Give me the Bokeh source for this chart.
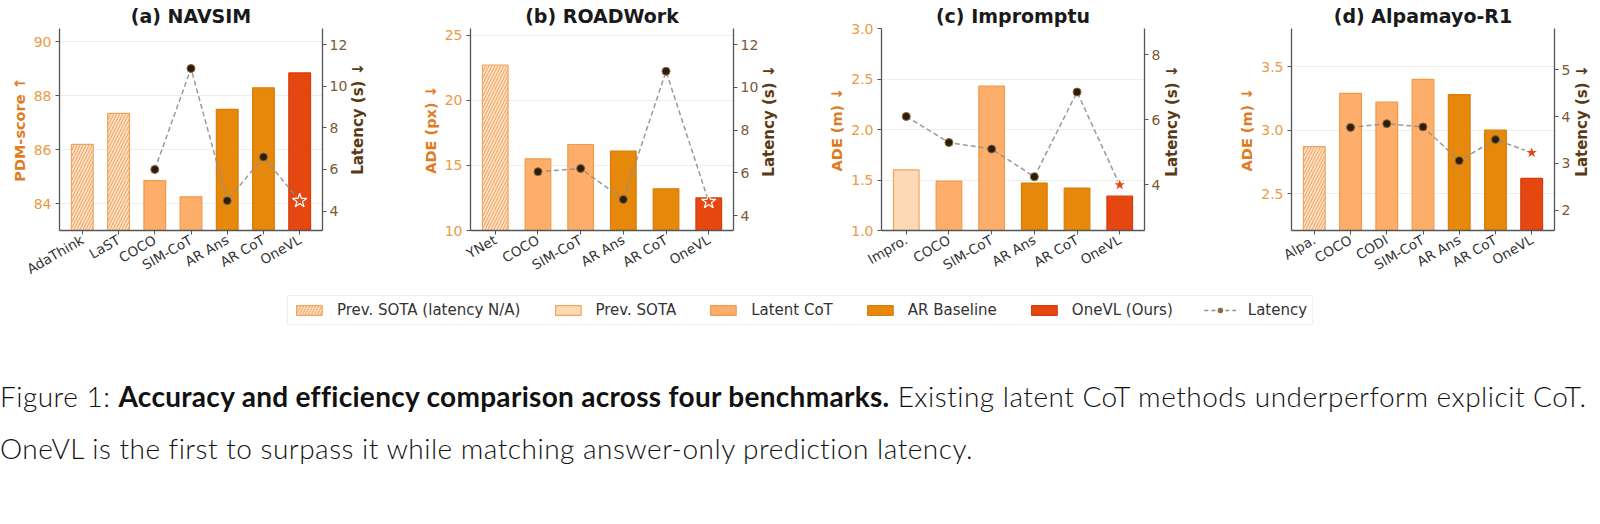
import math

from bokeh.embed import file_html
from bokeh.layouts import column, row
from bokeh.models import (ColumnDataSource, Div, FixedTicker, Label, Legend,
                          LegendItem, LinearAxis, PrintfTickFormatter, Range1d)
from bokeh.plotting import figure
from bokeh.resources import INLINE

NAN = float("nan")

# ---- data -------------------------------------------------------------
navsim_methods = ["AdaThink", "LaST", "COCO", "SIM-CoT", "AR Ans", "AR CoT", "OneVL"]
navsim_score = [86.2, 87.35, 84.85, 84.25, 87.5, 88.3, 88.85]
navsim_latency = [NAN, NAN, 6.0, 10.85, 4.5, 6.6, 4.5]
navsim_groups = ["sota_na", "sota_na", "latent", "latent", "ar", "ar", "ours"]

roadwork_methods = ["YNet", "COCO", "SIM-CoT", "AR Ans", "AR CoT", "OneVL"]
roadwork_ade = [22.7, 15.5, 16.6, 16.1, 13.2, 12.5]
roadwork_latency = [NAN, 6.05, 6.2, 4.75, 10.75, 4.65]
roadwork_groups = ["sota_na", "latent", "latent", "ar", "ar", "ours"]

impromptu_methods = ["Impro.", "COCO", "SIM-CoT", "AR Ans", "AR CoT", "OneVL"]
impromptu_ade = [1.60, 1.49, 2.43, 1.47, 1.42, 1.34]
impromptu_latency = [6.1, 5.3, 5.1, 4.25, 6.85, 4.0]
impromptu_groups = ["sota", "latent", "latent", "ar", "ar", "ours"]

alpamayo_methods = ["Alpa.", "COCO", "CODI", "SIM-CoT", "AR Ans", "AR CoT", "OneVL"]
alpamayo_ade = [2.87, 3.29, 3.22, 3.40, 3.28, 3.00, 2.62]
alpamayo_latency = [NAN, 3.77, 3.85, 3.78, 3.06, 3.51, 3.23]
alpamayo_groups = ["sota_na", "latent", "latent", "latent", "ar", "ar", "ours"]

legend_keys = ["sota_na", "sota", "latent", "ar", "ours"]
legend_labels = ["Prev. SOTA (latency N/A)", "Prev. SOTA", "Latent CoT",
                 "AR Baseline", "OneVL (Ours)", "Latency"]
latency_title = "Latency (s) ↓"

# ---- styles -----------------------------------------------------------
FONT = "DejaVu Sans"
FRAME_W, FRAME_H = 263, 202
BORDER_L, BORDER_T, BORDER_B = 59, 28, 52
GROUP_STYLE = {
    "sota_na": dict(fill_color="#fde4cb", line_color="#f0a45e",
                    hatch_pattern="/", hatch_color="#f3a766", hatch_scale=6,
                    hatch_weight=1.1),
    "sota": dict(fill_color="#fdd9b6", line_color="#f0a45e"),
    "latent": dict(fill_color="#fdae6b", line_color="#f29a4b"),
    "ar": dict(fill_color="#e6880b", line_color="#d97d06"),
    "ours": dict(fill_color="#e6460f", line_color="#d63d0b"),
}
LEFT_TICK = "#eb9a45"
LEFT_LABEL = "#e07c1f"
RIGHT_TICK = "#7a5a36"
RIGHT_LABEL = "#5a3a14"
SPINE = "#555555"
LAT_LINE = "#8f8f8f"
DOT_FILL = "#2d1d0c"
DOT_LINE = "#8a6a40"


def style_axis(ax, tick_color, label_color, tick_size, label_size):
    ax.axis_label_text_font = FONT
    ax.axis_label_text_font_size = label_size
    ax.axis_label_text_font_style = "bold"
    ax.axis_label_text_color = label_color
    ax.axis_label_standoff = 3
    ax.major_label_text_font = FONT
    ax.major_label_text_font_size = tick_size
    ax.major_label_text_color = tick_color
    ax.major_label_standoff = 4
    ax.minor_tick_line_color = None
    ax.major_tick_in = 0
    ax.major_tick_out = 4
    ax.axis_line_color = SPINE
    ax.axis_line_width = 1.3
    ax.major_tick_line_color = SPINE


def latency_title_strip(width, offset):
    """Narrow strip right of a panel holding its bottom-to-top latency title."""
    f = figure(width=width, height=280, output_backend="svg",
               toolbar_location=None, x_range=Range1d(0, width),
               y_range=Range1d(280, 0), min_border=0)
    f.axis.visible = False
    f.grid.visible = False
    f.outline_line_color = None
    f.add_layout(Label(x=offset, y=BORDER_T + FRAME_H / 2, angle=math.pi / 2,
                       text=latency_title, text_align="center",
                       text_baseline="middle", text_font=FONT,
                       text_font_size="15px", text_font_style="bold",
                       text_color=RIGHT_LABEL))
    return f


def panel(title, methods, values, latency, groups, y_range, lat_range,
          y_ticks, lat_ticks, y_label, fmt, slot_width):
    n = len(methods)
    xs = list(range(n))
    pad = 0.3 + 0.05 * (n - 0.4)
    digits = max(len(str(t)) for t in lat_ticks)
    border_r = 27 if digits > 1 else 20
    p = figure(frame_width=FRAME_W, frame_height=FRAME_H, min_border_left=BORDER_L,
               min_border_right=border_r, min_border_top=BORDER_T,
               min_border_bottom=BORDER_B, x_range=Range1d(-pad, n - 1 + pad),
               y_range=Range1d(*y_range), output_backend="svg",
               toolbar_location=None, title=title)
    p.extra_y_ranges = {"lat": Range1d(*lat_range)}
    p.outline_line_color = None
    p.background_fill_color = "white"
    p.border_fill_color = "white"

    p.title.align = "center"
    p.title.text_font = FONT
    p.title.text_font_size = "19px"
    p.title.text_font_style = "bold"
    p.title.text_color = "#1a1a1a"
    p.title.standoff = 3

    # bars, one call per method group
    for g, st in GROUP_STYLE.items():
        idx = [i for i in xs if groups[i] == g]
        if not idx:
            continue
        src = ColumnDataSource(dict(x=idx, top=[values[i] for i in idx]))
        p.vbar(x="x", top="top", bottom=0, width=0.6, source=src,
               line_width=1.2, **st)

    # latency on the secondary axis
    li = [i for i in xs if not math.isnan(latency[i])]
    p.line(li, [latency[i] for i in li], y_range_name="lat",
           line_color=LAT_LINE, line_width=1.5, line_dash="5 3", line_alpha=0.9)
    dots = [i for i in li if groups[i] != "ours"]
    p.scatter(dots, [latency[i] for i in dots], y_range_name="lat",
              marker="circle", size=8, fill_color=DOT_FILL, line_color=DOT_LINE,
              line_width=1)
    stars = [i for i in li if groups[i] == "ours"]
    p.scatter(stars, [latency[i] for i in stars], y_range_name="lat",
              marker="star", size=15, fill_color=GROUP_STYLE["ours"]["fill_color"],
              line_color="white", line_width=1.2)

    # x axis
    xa = p.xaxis[0]
    style_axis(xa, "#333333", "#333333", "13.5px", "13px")
    xa.ticker = FixedTicker(ticks=xs)
    xa.major_label_overrides = {i: m for i, m in enumerate(methods)}
    xa.major_label_orientation = math.radians(30)

    # left axis
    ya = p.yaxis[0]
    style_axis(ya, LEFT_TICK, LEFT_LABEL, "14px", "14.5px")
    ya.ticker = FixedTicker(ticks=y_ticks)
    ya.formatter = PrintfTickFormatter(format=fmt)
    ya.axis_label = y_label

    # right axis (latency); its title lives in the strip beside the panel
    ra = LinearAxis(y_range_name="lat", ticker=FixedTicker(ticks=lat_ticks))
    style_axis(ra, RIGHT_TICK, RIGHT_LABEL, "14px", "15px")
    ra.major_label_standoff = 3
    ra.axis_label_standoff = 0
    p.add_layout(ra, "right")

    p.xgrid.visible = False
    p.ygrid.ticker = FixedTicker(ticks=y_ticks)
    p.ygrid.grid_line_color = "#e9e9e9"
    p.ygrid.grid_line_width = 0.8

    strip_w = slot_width - (BORDER_L + FRAME_W + border_r)
    title_offset = (34 if digits > 1 else 27) - border_r
    return row(p, latency_title_strip(strip_w, title_offset), spacing=0)


pa = panel("(a) NAVSIM", navsim_methods, navsim_score, navsim_latency,
           navsim_groups, (83.0, 90.5), (3.07, 12.77), [84, 86, 88, 90],
           [4, 6, 8, 10, 12], "PDM-score ↑", "%d", 410)
pb = panel("(b) ROADWork", roadwork_methods, roadwork_ade, roadwork_latency,
           roadwork_groups, (10.0, 25.5), (3.3, 12.75), [10, 15, 20, 25],
           [4, 6, 8, 10, 12], "ADE (px) ↓", "%d", 410)
pc = panel("(c) Impromptu", impromptu_methods, impromptu_ade, impromptu_latency,
           impromptu_groups, (1.0, 3.0), (2.6, 8.8), [1.0, 1.5, 2.0, 2.5, 3.0],
           [4, 6, 8], "ADE (m) ↓", "%.1f", 410)
pd_ = panel("(d) Alpamayo-R1", alpamayo_methods, alpamayo_ade, alpamayo_latency,
            alpamayo_groups, (2.21, 3.8), (1.57, 5.88), [2.5, 3.0, 3.5],
            [2, 3, 4, 5], "ADE (m) ↓", "%.1f", 370)

# ---- shared legend ----------------------------------------------------
# The sample renderers sit outside the visible range; only their legend
# swatches are seen.
lf = figure(width=1600, height=48, output_backend="svg", toolbar_location=None,
            x_range=Range1d(0, 1), y_range=Range1d(0, 1), min_border=0)
lf.axis.visible = False
lf.grid.visible = False
lf.outline_line_color = None
items = []
for key, label in zip(legend_keys, legend_labels[:5]):
    r = lf.vbar(x=[-10], top=[-10], bottom=-20, width=0.1, line_width=1.2,
                **GROUP_STYLE[key])
    items.append(LegendItem(label=label, renderers=[r]))
lat_line = lf.line(x=[-10, -11], y=[-10, -10], line_color=LAT_LINE,
                   line_width=1.5, line_dash="4 3")
lat_dot = lf.scatter(x=[-10], y=[-10], marker="circle", size=6,
                     fill_color="#8b6b3d", line_color="#8b6b3d")
items.append(LegendItem(label=legend_labels[5], renderers=[lat_line, lat_dot]))
legend = Legend(items=items, orientation="horizontal", location="center",
                label_text_font=FONT, label_text_font_size="15px",
                label_text_color="#333333", glyph_width=32, glyph_height=12,
                spacing=31, label_standoff=12, padding=5, margin=0,
                border_line_color="#dddddd", border_line_width=1,
                background_fill_color="white", background_fill_alpha=1)
lf.add_layout(legend, "center")

# ---- caption ----------------------------------------------------------
caption = Div(
    text=("<div style=\"font-family:Lato,'DejaVu Sans Condensed',sans-serif;"
          "font-size:28px;letter-spacing:0.5px;line-height:52px;color:#111;"
          "white-space:nowrap;font-weight:300;padding-top:36px;\">"
          "Figure 1: <b style='font-weight:700;letter-spacing:0.3px'>Accuracy and "
          "efficiency comparison across four benchmarks.</b> Existing latent CoT "
          "methods underperform explicit CoT.<br>OneVL is the first to surpass it "
          "while matching answer-only prediction latency.</div>"),
    width=1600, height=185, margin=(0, 0, 0, 0))

layout = column(row(pa, pb, pc, pd_, spacing=0), lf, caption, spacing=0)
open("out.html", "w").write(file_html(layout, INLINE))
